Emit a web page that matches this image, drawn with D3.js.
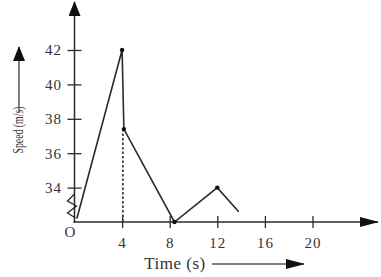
<!DOCTYPE html>
<html>
<head>
<meta charset="utf-8">
<script src="https://cdn.jsdelivr.net/npm/d3@7"></script>
<style>
  body { margin: 0; background: #fff; }
  text { font-family: "Liberation Serif", "DejaVu Serif", serif; fill: #333; }
</style>
</head>
<body>
<div id="chart"></div>
<script>
var times = [0.2, 4, 4.15, 8.4, 12, 13.8];
var speeds = [32.2, 42, 37.4, 32, 34, 32.6];
var dotIndex = [1, 2, 3, 4];
var xTicks = [4, 8, 12, 16, 20];
var yTicks = [34, 36, 38, 40, 42];

var width = 381, height = 277;
var ink = "#2a2a2a";

var svg = d3.select("#chart").append("svg")
    .attr("width", width)
    .attr("height", height);

var x = d3.scaleLinear().domain([0, 20]).range([74.5, 312.5]);
var y = d3.scaleLinear().domain([32, 42]).range([222, 50]);

var x0 = x(0), yBase = y(32);

// arrow heads
var defs = svg.append("defs");
defs.append("marker")
    .attr("id", "head")
    .attr("markerUnits", "userSpaceOnUse")
    .attr("markerWidth", 15).attr("markerHeight", 12)
    .attr("viewBox", "0 0 15 12")
    .attr("refX", 14).attr("refY", 6)
    .attr("orient", "auto")
    .append("path")
    .attr("d", "M0,0 L15,6 L0,12 Z")
    .attr("fill", "#111");
defs.append("marker")
    .attr("id", "headLong")
    .attr("markerUnits", "userSpaceOnUse")
    .attr("markerWidth", 19).attr("markerHeight", 10)
    .attr("viewBox", "0 0 19 10")
    .attr("refX", 18).attr("refY", 5)
    .attr("orient", "auto")
    .append("path")
    .attr("d", "M0,0 L19,5 L0,10 Z")
    .attr("fill", "#111");

// axes
svg.append("line")
    .attr("x1", x0).attr("y1", yBase + 1)
    .attr("x2", x0).attr("y2", 2)
    .attr("stroke", ink).attr("stroke-width", 1.5)
    .attr("marker-end", "url(#head)");
svg.append("line")
    .attr("x1", x0 - 1).attr("y1", yBase)
    .attr("x2", 378).attr("y2", yBase)
    .attr("stroke", ink).attr("stroke-width", 1.5)
    .attr("marker-end", "url(#headLong)");

// y ticks
var yAxis = svg.append("g")
    .attr("transform", "translate(" + x0 + ",0)")
    .call(d3.axisLeft(y).tickValues(yTicks).tickSize(7).tickFormat(d3.format("d")));
yAxis.select(".domain").remove();
yAxis.selectAll(".tick line").attr("x1", 7).attr("x2", -7).attr("stroke", ink).attr("stroke-width", 1.3);
yAxis.selectAll(".tick text").attr("x", -12.5).attr("font-size", 15)
    .attr("letter-spacing", 1).attr("fill", "#333");

// x ticks
var xAxis = svg.append("g")
    .attr("transform", "translate(0," + yBase + ")")
    .call(d3.axisBottom(x).tickValues(xTicks).tickSize(6));
xAxis.select(".domain").remove();
xAxis.selectAll(".tick line").attr("y1", -6).attr("y2", 6).attr("stroke", ink).attr("stroke-width", 1.3);
xAxis.selectAll(".tick text").attr("y", 15).attr("font-size", 15)
    .attr("letter-spacing", 1).attr("fill", "#333");

svg.append("text")
    .attr("x", x0 - 4.5).attr("y", yBase + 15)
    .attr("text-anchor", "middle")
    .attr("font-size", 15)
    .text("O");

// axis break zigzag
svg.append("path")
    .attr("d", "M" + x0 + "," + (yBase - 28) + " L" + (x0 - 7) + "," + (yBase - 21) +
        " L" + (x0 + 2) + "," + (yBase - 16) + " L" + (x0 - 7) + "," + (yBase - 9) +
        " L" + (x0 + 1) + "," + (yBase - 4))
    .attr("fill", "none").attr("stroke", ink).attr("stroke-width", 1.3);

// dashed drop line
svg.append("line")
    .attr("x1", x(times[2]) - 1).attr("x2", x(times[2]) - 1)
    .attr("y1", y(speeds[2])).attr("y2", yBase)
    .attr("stroke", "#444").attr("stroke-width", 1.8)
    .attr("stroke-dasharray", "2.5,2");

// speed line
var pts = times.map(function (t, i) { return [t, speeds[i]]; });
var line = d3.line()
    .x(function (d) { return x(d[0]); })
    .y(function (d) { return y(d[1]); });
svg.append("path")
    .datum(pts)
    .attr("d", line)
    .attr("fill", "none")
    .attr("stroke", ink)
    .attr("stroke-width", 1.6);

svg.selectAll(".dot")
    .data(dotIndex)
    .enter()
    .append("circle")
    .attr("cx", function (i) { return x(times[i]); })
    .attr("cy", function (i) { return y(speeds[i]); })
    .attr("r", 2.2)
    .attr("fill", "#111");

// axis titles
svg.append("text")
    .attr("transform", "translate(23,130) rotate(-90)")
    .attr("text-anchor", "middle")
    .attr("font-size", 15.5)
    .attr("textLength", 47)
    .attr("lengthAdjust", "spacingAndGlyphs")
    .text("Speed (m/s)");
svg.append("line")
    .attr("x1", 19).attr("y1", 112)
    .attr("x2", 19).attr("y2", 47)
    .attr("stroke", "#555").attr("stroke-width", 1.5)
    .attr("marker-end", "url(#head)");

svg.append("text")
    .attr("x", 175).attr("y", 269)
    .attr("text-anchor", "middle")
    .attr("font-size", 17)
    .attr("letter-spacing", 0.5)
    .text("Time (s)");
svg.append("line")
    .attr("x1", 212).attr("y1", 264)
    .attr("x2", 304).attr("y2", 264)
    .attr("stroke", "#555").attr("stroke-width", 1.5)
    .attr("marker-end", "url(#headLong)");
</script>
</body>
</html>
